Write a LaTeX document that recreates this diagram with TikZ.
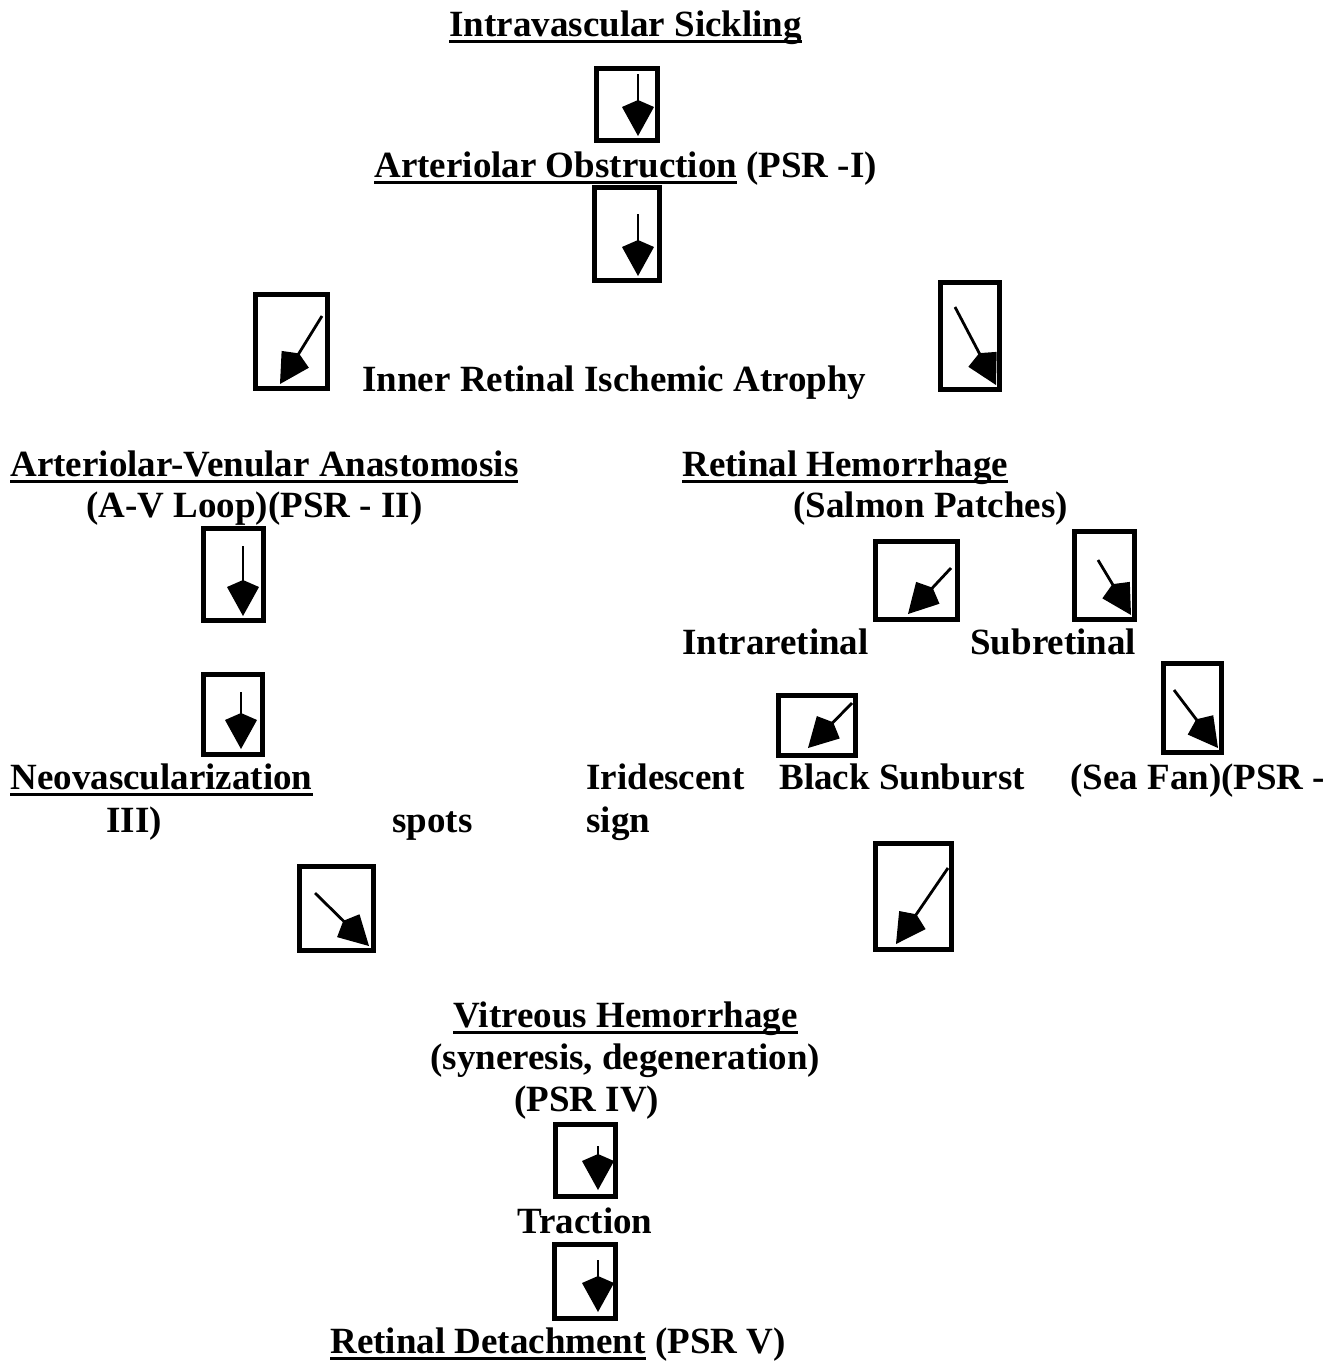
\documentclass[tikz,border=0pt]{standalone}
\usepackage{fontspec}
\setmainfont{Liberation Serif}
\usetikzlibrary{arrows.meta,fit}
\newcommand{\undl}[1]{\setbox0\hbox{#1}\rlap{\vrule height -0.11em depth 0.2em width \wd0}\box0\relax}
\tikzset{
  lbl/.style={anchor=base west, inner sep=0pt, font=\fontsize{18.5}{22}\selectfont\bfseries},
  arrbox/.style={draw, line width=2.5pt, inner sep=0pt},
  flow/.style={-{Kite[length=18pt,width=16pt,inset=3.5pt]}, line width=1.4pt}
}
\begin{document}
\begin{tikzpicture}[x=0.5pt,y=-0.5pt]
\fill[white] (0,0) rectangle (1329,1361);
\useasboundingbox (0,0) rectangle (1329,1361);
% texts
\node[lbl] (sick) at (449,36) {\undl{Intravascular Sickling}};
\node[lbl] (obst) at (374,177) {\undl{Arteriolar Obstruction} (PSR -I)};
\node[lbl] (isch) at (362,391) {Inner Retinal Ischemic Atrophy};
\node[lbl] (anas) at (10,476) {\undl{Arteriolar-Venular Anastomosis}};
\node[lbl] (loop) at (86,517) {(A-V Loop)(PSR - II)};
\node[lbl] (hem) at (682,476) {\undl{Retinal Hemorrhage}};
\node[lbl] (salm) at (793,517) {(Salmon Patches)};
\node[lbl] (intra) at (682,654) {Intraretinal};
\node[lbl] (sub) at (970,654) {Subretinal};
\node[lbl] (neo) at (10,789) {\undl{Neovascularization}};
\node[lbl] (irid) at (586,789) {Iridescent};
\node[lbl] (sun) at (779,789) {Black Sunburst};
\node[lbl] (fan) at (1070,789) {(Sea Fan)(PSR -};
\node[lbl] (three) at (106,832) {III)};
\node[lbl] (spots) at (392,832) {spots};
\node[lbl] (sign) at (586,832) {sign};
\node[lbl] (vitr) at (453,1027) {\undl{Vitreous Hemorrhage}};
\node[lbl] (syn) at (430,1069) {(syneresis, degeneration)};
\node[lbl] (four) at (514,1111) {(PSR IV)};
\node[lbl] (trac) at (517,1233) {Traction};
\node[lbl] (det) at (330,1353) {\undl{Retinal Detachment} (PSR V)};
% boxes
\node[arrbox, fit={(596,68) (657,140)}] (b1) {};
\node[arrbox, fit={(594,187) (659,280)}] (b2) {};
\node[arrbox, fit={(255,294) (327,388)}] (b3) {};
\node[arrbox, fit={(940,282) (999,389)}] (b4) {};
\node[arrbox, fit={(203,528) (263,620)}] (b5) {};
\node[arrbox, fit={(875,541) (957,619)}] (b6) {};
\node[arrbox, fit={(1074,531) (1134,619)}] (b7) {};
\node[arrbox, fit={(203,674) (262,754)}] (b8) {};
\node[arrbox, fit={(778,695) (855,755)}] (b9) {};
\node[arrbox, fit={(1163,663) (1221,752)}] (b10) {};
\node[arrbox, fit={(299,866) (373,950)}] (b11) {};
\node[arrbox, fit={(875,843) (951,949)}] (b12) {};
\node[arrbox, fit={(555,1124) (615,1196)}] (b13) {};
\node[arrbox, fit={(554,1244) (615,1318)}] (b14) {};
% arrows
\coordinate (s1) at (638,74);    \coordinate (e1) at (638,136);
\coordinate (s2) at (638,214);   \coordinate (e2) at (638,276);
\coordinate (s3) at (322,316);   \coordinate (e3) at (280,384);
\coordinate (s4) at (955,307);   \coordinate (e4) at (996,385);
\coordinate (s5) at (243,546);   \coordinate (e5) at (243,616);
\coordinate (s6) at (951,568);   \coordinate (e6) at (908,614);
\coordinate (s7) at (1098,560);  \coordinate (e7) at (1131,615);
\coordinate (s8) at (241,692);   \coordinate (e8) at (241,749);
\coordinate (s9) at (852,703);   \coordinate (e9) at (808,748);
\coordinate (s10) at (1174,690); \coordinate (e10) at (1218,748);
\coordinate (s11) at (315,893);  \coordinate (e11) at (369,946);
\coordinate (s12) at (948,868);  \coordinate (e12) at (896,944);
\coordinate (s13) at (598,1146); \coordinate (e13) at (598,1190);
\coordinate (s14) at (598,1260); \coordinate (e14) at (598,1312);
\draw[flow] (s1) -- (e1);
\draw[flow] (s2) -- (e2);
\draw[flow] (s3) -- (e3);
\draw[flow] (s4) -- (e4);
\draw[flow] (s5) -- (e5);
\draw[flow] (s6) -- (e6);
\draw[flow] (s7) -- (e7);
\draw[flow] (s8) -- (e8);
\draw[flow] (s9) -- (e9);
\draw[flow] (s10) -- (e10);
\draw[flow] (s11) -- (e11);
\draw[flow] (s12) -- (e12);
\draw[flow] (s13) -- (e13);
\draw[flow] (s14) -- (e14);
\end{tikzpicture}
\end{document}
